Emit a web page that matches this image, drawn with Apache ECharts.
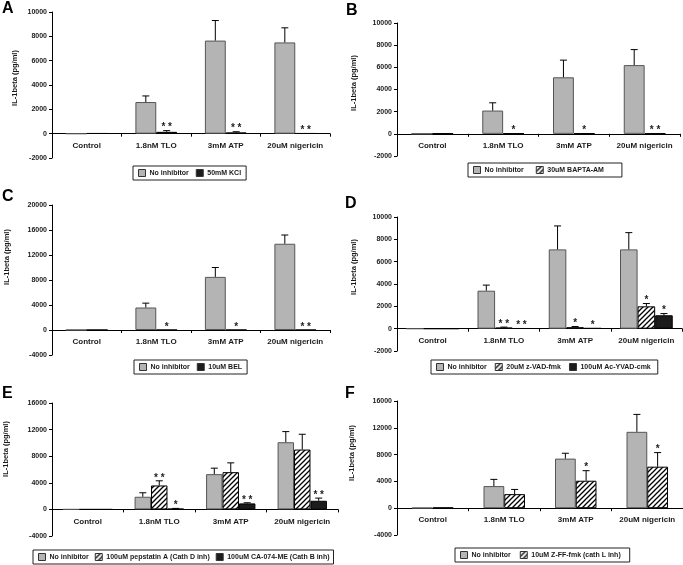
<!DOCTYPE html>
<html><head><meta charset="utf-8">
<script src="https://cdn.jsdelivr.net/npm/echarts@6/dist/echarts.min.js"></script>
<style>html,body{margin:0;padding:0;background:#fff}#c{width:683px;height:565px}</style>
</head><body><div id="c"></div>
<script>
const categories = ['Control', '1.8nM TLO', '3mM ATP', '20uM nigericin'];
const yTitle = 'IL-1beta (pg/ml)';

// Panel A
const aNoInh = [0, 2600, 7650, 7500];
const aNoInhErr = [0, 500, 1650, 1200];
const aKCl = [30, 150, 100, 30];
const aKClErr = [0, 100, 60, 0];
const aKClSig = ['', '**', '**', '**'];
// Panel B
const bNoInh = [0, 2100, 5100, 6200];
const bNoInhErr = [0, 700, 1550, 1400];
const bBapta = [30, 30, 30, 30];
const bBaptaErr = [0, 0, 0, 0];
const bBaptaSig = ['', '*', '*', '**'];
// Panel C
const cNoInh = [0, 3600, 8500, 13800];
const cNoInhErr = [0, 700, 1500, 1400];
const cBel = [0, 0, 0, 0];
const cBelErr = [0, 0, 0, 0];
const cBelSig = ['', '*', '*', '**'];
// Panel D
const dNoInh = [0, 3400, 7100, 7100];
const dNoInhErr = [0, 500, 2100, 1500];
const dZvad = [0, 100, 130, 2000];
const dZvadErr = [0, 40, 60, 250];
const dZvadSig = ['', '**', '*', '*'];
const dYvad = [0, 30, 50, 1200];
const dYvadErr = [0, 0, 0, 150];
const dYvadSig = ['', '**', '*', '*'];
// Panel E
const eNoInh = [0, 1900, 5300, 10100];
const eNoInhErr = [0, 600, 900, 1600];
const ePep = [0, 3600, 5600, 9000];
const ePepErr = [0, 700, 1400, 2300];
const ePepSig = ['', '**', '', ''];
const eCa = [0, 100, 900, 1300];
const eCaErr = [0, 50, 100, 400];
const eCaSig = ['', '*', '**', '**'];
// Panel F
const fNoInh = [50, 3300, 7400, 11400];
const fNoInhErr = [0, 1000, 800, 2600];
const fZff = [100, 2100, 4100, 6200];
const fZffErr = [0, 700, 1500, 2100];
const fZffSig = ['', '', '*', '*'];

const FONT = 'Arial, "Liberation Sans", sans-serif';
const INK = '#1a1a1a';

function hatchCanvas() {
  const c = document.createElement('canvas');
  c.width = 5; c.height = 5;
  const g = c.getContext('2d');
  g.fillStyle = '#fff'; g.fillRect(0, 0, 5, 5);
  g.strokeStyle = '#000'; g.lineWidth = 1.3;
  g.beginPath();
  g.moveTo(-1, 6); g.lineTo(6, -1);
  g.moveTo(-1, 1); g.lineTo(1, -1);
  g.moveTo(4, 6); g.lineTo(6, 4);
  g.stroke();
  return c;
}
const HATCH = { image: hatchCanvas(), repeat: 'repeat' };
const STYLES = {
  gray: { color: '#b4b4b4', borderColor: '#555', borderWidth: 1 },
  black: { color: '#1c1c1c', borderColor: '#000', borderWidth: 1 },
  hatch: { color: HATCH, borderColor: '#000', borderWidth: 1 }
};

const panels = [
  { letter: 'A', lx: 2, ly: 1, tx: 15, ty: 78,
    grid: { left: 52, top: 12, width: 278, height: 146 }, min: -2000, max: 10000, interval: 2000, gap: 0.40,
    legend: { left: 133, top: 166, padR: 5 },
    series: [
      { name: 'No inhibitor', style: 'gray', data: aNoInh, err: aNoInhErr, sig: null },
      { name: '50mM KCl', style: 'black', data: aKCl, err: aKClErr, sig: aKClSig }
    ] },
  { letter: 'B', lx: 346, ly: 3, tx: 354, ty: 83,
    grid: { left: 397, top: 23, width: 283, height: 133 }, min: -2000, max: 10000, interval: 2000, gap: 0.41,
    legend: { left: 468, top: 163, padR: 18, gap: 12 },
    series: [
      { name: 'No inhibitor', style: 'gray', data: bNoInh, err: bNoInhErr, sig: null },
      { name: '30uM BAPTA-AM', style: 'hatch', data: bBapta, err: bBaptaErr, sig: bBaptaSig }
    ] },
  { letter: 'C', lx: 2, ly: 189, tx: 7, ty: 257,
    grid: { left: 52, top: 205, width: 278, height: 150 }, min: -4000, max: 20000, interval: 4000, gap: 0.40,
    legend: { left: 134, top: 360, padR: 5 },
    series: [
      { name: 'No inhibitor', style: 'gray', data: cNoInh, err: cNoInhErr, sig: null },
      { name: '10uM BEL', style: 'black', data: cBel, err: cBelErr, sig: cBelSig }
    ] },
  { letter: 'D', lx: 345, ly: 196, tx: 354, ty: 267,
    grid: { left: 397, top: 217, width: 285, height: 134 }, min: -2000, max: 10000, interval: 2000, gap: 0.26,
    legend: { left: 431, top: 360, padR: 7, gap: 8 },
    series: [
      { name: 'No inhibitor', style: 'gray', data: dNoInh, err: dNoInhErr, sig: null },
      { name: '20uM z-VAD-fmk', style: 'hatch', data: dZvad, err: dZvadErr, sig: dZvadSig },
      { name: '100uM Ac-YVAD-cmk', style: 'black', data: dYvad, err: dYvadErr, sig: dYvadSig }
    ] },
  { letter: 'E', lx: 2, ly: 386, tx: 6, ty: 449,
    grid: { left: 52, top: 403, width: 286, height: 133 }, min: -4000, max: 16000, interval: 4000, gap: 0.31,
    legend: { left: 33, top: 550, padR: 4, gap: 6 },
    series: [
      { name: 'No inhibitor', style: 'gray', data: eNoInh, err: eNoInhErr, sig: null },
      { name: '100uM pepstatin A (Cath D inh)', style: 'hatch', data: ePep, err: ePepErr, sig: ePepSig },
      { name: '100uM CA-074-ME (Cath B inh)', style: 'black', data: eCa, err: eCaErr, sig: eCaSig }
    ] },
  { letter: 'F', lx: 345, ly: 386, tx: 352, ty: 453,
    grid: { left: 397, top: 401, width: 286, height: 134 }, min: -4000, max: 16000, interval: 4000, gap: 0.42,
    legend: { left: 455, top: 548, padR: 9, gap: 9 },
    series: [
      { name: 'No inhibitor', style: 'gray', data: fNoInh, err: fNoInhErr, sig: null },
      { name: '10uM Z-FF-fmk (cath L inh)', style: 'hatch', data: fZff, err: fZffErr, sig: fZffSig }
    ] }
];

const grids = [], xAxes = [], yAxes = [], series = [], legends = [], graphics = [];

panels.forEach((p, k) => {
  grids.push(Object.assign({ containLabel: false }, p.grid));
  const zeroOffset = -p.grid.height * (0 - p.min) / (p.max - p.min);
  xAxes.push({
    type: 'category', gridIndex: k, data: categories, position: 'bottom', offset: zeroOffset,
    axisLine: { onZero: false, lineStyle: { color: '#000', width: 1 } },
    axisTick: { show: true, length: 3, alignWithLabel: false, lineStyle: { color: '#000' } },
    axisLabel: { fontSize: 8, fontWeight: 'bold', fontFamily: FONT, color: INK, margin: 8, interval: 0 },
    splitLine: { show: false }
  });
  yAxes.push({
    type: 'value', gridIndex: k, min: p.min, max: p.max, interval: p.interval,
    axisLine: { show: true, onZero: false, lineStyle: { color: '#000', width: 1 } },
    axisTick: { show: true, length: 3, lineStyle: { color: '#000' } },
    axisLabel: { fontSize: 7, fontWeight: 'bold', fontFamily: FONT, color: INK, margin: 5,
      formatter: v => String(v) },
    splitLine: { show: false }
  });
  const n = p.series.length;
  p.series.forEach((s, i) => {
    series.push({
      type: 'bar', name: s.name, xAxisIndex: k, yAxisIndex: k,
      data: s.data, barGap: '0%', barCategoryGap: (p.gap * 100) + '%',
      itemStyle: STYLES[s.style], emphasis: { disabled: true }, silent: true
    });
    const rows = categories.map((c, j) => [j, s.data[j], s.err[j]]);
    const sigs = s.sig;
    const gap = p.gap;
    series.push({
      type: 'custom', xAxisIndex: k, yAxisIndex: k, data: rows, silent: true, z: 5,
      renderItem: function (params, api) {
        const j = api.value(0), v = api.value(1), e = api.value(2);
        const band = api.size([1, 0])[0];
        const bw = band * (1 - gap) / n;
        const base = api.coord([j, v]);
        const cx = base[0] + (i - (n - 1) / 2) * bw;
        const topY = api.coord([j, v + e])[1];
        const ch = [];
        if (e > 0) {
          ch.push({ type: 'line', shape: { x1: cx, y1: base[1], x2: cx, y2: topY }, style: { stroke: '#000', lineWidth: 1 } });
          ch.push({ type: 'line', shape: { x1: cx - 3.5, y1: topY, x2: cx + 3.5, y2: topY }, style: { stroke: '#000', lineWidth: 1 } });
        }
        const sg = sigs ? sigs[params.dataIndex] : '';
        if (sg) {
          ch.push({ type: 'text', x: cx, y: topY + 2, style: {
            text: sg.split('').join(' '), fill: '#222', font: 'bold 10px ' + FONT,
            textAlign: 'center', textVerticalAlign: 'bottom' } });
        }
        return { type: 'group', children: ch };
      }
    });
  });
  legends.push({
    left: p.legend.left, top: p.legend.top, orient: 'horizontal',
    data: p.series.map(s => s.name), selectedMode: false,
    padding: [3, p.legend.padR, 3, 5], itemGap: p.legend.gap || 7, itemWidth: 7, itemHeight: 7, icon: 'rect',
    borderColor: '#222', borderWidth: 1,
    itemStyle: { borderColor: '#333', borderWidth: 1 },
    textStyle: { fontSize: 7, fontWeight: 'bold', fontFamily: FONT, color: INK, padding: [0, 0, 0, -1] }
  });
  graphics.push({ type: 'text', left: p.lx, top: p.ly,
    style: { text: p.letter, font: 'bold 16px ' + FONT, fill: '#000' } });
  graphics.push({ type: 'text', x: p.tx, y: p.ty, rotation: Math.PI / 2,
    style: { text: yTitle, font: 'bold 7.5px ' + FONT, fill: INK, textAlign: 'center', textVerticalAlign: 'middle' } });
});

const chart = echarts.init(document.getElementById('c'), null, { renderer: 'canvas' });
chart.setOption({
  animation: false,
  backgroundColor: '#fff',
  grid: grids, xAxis: xAxes, yAxis: yAxes, series: series, legend: legends, graphic: graphics
});
</script>
</body></html>
